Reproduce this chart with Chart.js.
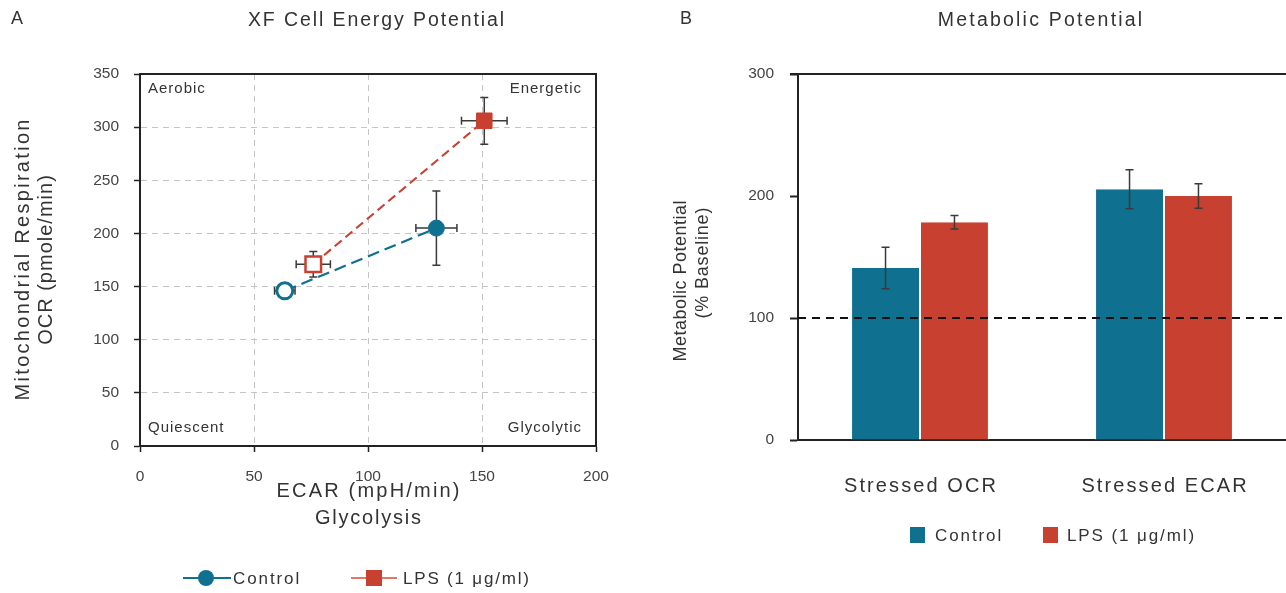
<!DOCTYPE html>
<html>
<head>
<meta charset="utf-8">
<title>XF Cell Energy Potential / Metabolic Potential</title>
<script src="https://cdn.jsdelivr.net/npm/chart.js@4"></script>
<style>
  html, body { margin: 0; padding: 0; background: #ffffff; }
  .panel { position: absolute; top: 0; height: 593px; }
  #panelA { left: 0; width: 640px; }
  #panelB { left: 640px; width: 646px; }
</style>
</head>
<body>
<div class="panel" id="panelA"><canvas id="energyChart" width="640" height="593"></canvas></div>
<div class="panel" id="panelB"><canvas id="potentialChart" width="646" height="593"></canvas></div>
<script>
(() => {
    'use strict';

    // Panel A: XF cell energy potential (baseline -> stressed)
    const ecarTicks = [0, 50, 100, 150, 200];
    const ocrTicks = [0, 50, 100, 150, 200, 250, 300, 350];
    const controlEcar = [63.5, 130];
    const controlOcr = [146, 205];
    const controlEcarErr = [4.5, 9];
    const controlOcrErr = [4, 35];
    const lpsEcar = [76, 151];
    const lpsOcr = [171, 306];
    const lpsEcarErr = [7.5, 10];
    const lpsOcrErr = [12, 22];
    const quadrantLabels = ['Aerobic', 'Energetic', 'Quiescent', 'Glycolytic'];

    // Panel B: metabolic potential (% baseline)
    const metricLabels = ['Stressed OCR', 'Stressed ECAR'];
    const potentialTicks = [0, 100, 200, 300];
    const controlPotential = [141, 205.5];
    const controlPotentialErr = [17, 16];
    const lpsPotential = [178.5, 200];
    const lpsPotentialErr = [5.5, 10];
    const baselinePercent = 100;

    const seriesNames = ['Control', 'LPS (1 \u03bcg/ml)'];

    const BLUE = '#10708f';
    const RED = '#c8402f';
    const INK = '#333333';
    const AXIS = '#222222';
    const FONT = '"Liberation Sans", Arial, sans-serif';

    Chart.defaults.font.family = FONT;
    Chart.defaults.color = INK;

    // the figure's lettering is widely tracked, so text is drawn by hand with letterSpacing
    const text = (ctx, str, x, y, size, spacing, align = 'center', rotate = false) => {
        ctx.save();
        ctx.font = `${size}px ${FONT}`;
        ctx.letterSpacing = `${spacing}px`;
        ctx.fillStyle = INK;
        ctx.textBaseline = 'middle';
        ctx.textAlign = align;
        ctx.translate(x, y);
        if (rotate) {
            ctx.rotate(-Math.PI / 2);
        }
        const shift = align === 'center' ? spacing / 2 : 0;
        ctx.fillText(str, shift, 0);
        ctx.restore();
    };

    const drawErrorBar = (ctx, x1, y1, x2, y2, cap) => {
        ctx.beginPath();
        ctx.moveTo(x1, y1);
        ctx.lineTo(x2, y2);
        if (x1 === x2) {
            ctx.moveTo(x1 - cap, y1);
            ctx.lineTo(x1 + cap, y1);
            ctx.moveTo(x2 - cap, y2);
            ctx.lineTo(x2 + cap, y2);
        } else {
            ctx.moveTo(x1, y1 - cap);
            ctx.lineTo(x1, y1 + cap);
            ctx.moveTo(x2, y2 - cap);
            ctx.lineTo(x2, y2 + cap);
        }
        ctx.stroke();
    };

    const energyDecor = {
        id: 'energyDecor',
        beforeDatasetsDraw(chart) {
            const { ctx, chartArea: area, scales: { x, y } } = chart;
            ctx.save();

            ctx.strokeStyle = AXIS;
            ctx.lineWidth = 2;
            ctx.strokeRect(area.left, area.top, area.right - area.left, area.bottom - area.top);

            text(ctx, quadrantLabels[0], area.left + 8, area.top + 15, 15, 1, 'left');
            text(ctx, quadrantLabels[2], area.left + 8, area.bottom - 18, 15, 1, 'left');
            text(ctx, quadrantLabels[1], area.right - 14, area.top + 15, 15, 1, 'right');
            text(ctx, quadrantLabels[3], area.right - 14, area.bottom - 18, 15, 1, 'right');

            ctx.strokeStyle = '#3a3a3a';
            ctx.lineWidth = 1.5;
            const groups = [
                [controlEcar, controlOcr, controlEcarErr, controlOcrErr],
                [lpsEcar, lpsOcr, lpsEcarErr, lpsOcrErr],
            ];
            groups.forEach(([ex, oy, exErr, oyErr]) => {
                ex.forEach((value, i) => {
                    const px = x.getPixelForValue(value);
                    const py = y.getPixelForValue(oy[i]);
                    drawErrorBar(ctx, px, y.getPixelForValue(oy[i] + oyErr[i]), px, y.getPixelForValue(oy[i] - oyErr[i]), 4);
                    drawErrorBar(ctx, x.getPixelForValue(value - exErr[i]), py, x.getPixelForValue(value + exErr[i]), py, 4);
                });
            });
            ctx.restore();
        },
        afterDraw(chart) {
            const { ctx, chartArea: area } = chart;
            const midX = (area.left + area.right) / 2;
            const midY = (area.top + area.bottom) / 2;

            text(ctx, 'A', 11, 19, 18, 0, 'left');
            text(ctx, 'XF Cell Energy Potential', 376, 21, 19.5, 1.9);

            text(ctx, 'ECAR (mpH/min)', midX, 491, 20, 2.2);
            text(ctx, 'Glycolysis', midX, 518, 20, 1.8);
            text(ctx, 'Mitochondrial Respiration', 23, midY, 20, 2.3, 'center', true);
            text(ctx, 'OCR (pmole/min)', 46, midY, 20, 1, 'center', true);

            const legendY = 578;
            ctx.save();
            ctx.lineWidth = 2;
            ctx.strokeStyle = BLUE;
            ctx.beginPath();
            ctx.moveTo(183, legendY);
            ctx.lineTo(231, legendY);
            ctx.stroke();
            ctx.fillStyle = BLUE;
            ctx.beginPath();
            ctx.arc(206, legendY, 8, 0, Math.PI * 2);
            ctx.fill();

            ctx.strokeStyle = '#e0786a';
            ctx.beginPath();
            ctx.moveTo(351, legendY);
            ctx.lineTo(397, legendY);
            ctx.stroke();
            ctx.fillStyle = RED;
            ctx.fillRect(366, legendY - 8, 16, 16);
            ctx.restore();

            text(ctx, seriesNames[0], 233, legendY + 1, 17, 1.9, 'left');
            text(ctx, seriesNames[1], 403, legendY + 1, 17, 1.8, 'left');
        },
    };

    new Chart(document.getElementById('energyChart'), {
        type: 'scatter',
        data: {
            datasets: [
                {
                    label: seriesNames[1],
                    data: lpsEcar.map((value, i) => ({ x: value, y: lpsOcr[i] })),
                    showLine: true,
                    borderColor: RED,
                    borderWidth: 2.2,
                    borderDash: [9, 5],
                    pointStyle: 'rect',
                    pointRadius: 11,
                    pointBackgroundColor: ['#ffffff', RED],
                    pointBorderColor: RED,
                    pointBorderWidth: [2.5, 1],
                },
                {
                    label: seriesNames[0],
                    data: controlEcar.map((value, i) => ({ x: value, y: controlOcr[i] })),
                    showLine: true,
                    borderColor: BLUE,
                    borderWidth: 2.2,
                    borderDash: [12, 6],
                    pointStyle: 'circle',
                    pointRadius: 8,
                    pointBackgroundColor: ['#ffffff', BLUE],
                    pointBorderColor: BLUE,
                    pointBorderWidth: [3, 1],
                },
            ],
        },
        plugins: [energyDecor],
        options: {
            responsive: false,
            animation: false,
            layout: {
                padding: { left: 0, top: 74, right: 44, bottom: 0 },
            },
            scales: {
                x: {
                    type: 'linear',
                    min: ecarTicks[0],
                    max: ecarTicks[ecarTicks.length - 1],
                    afterBuildTicks: (scale) => {
                        scale.ticks = ecarTicks.map((value) => ({ value }));
                    },
                    afterFit: (scale) => {
                        scale.height = 147;
                    },
                    ticks: {
                        padding: 15,
                        color: '#444444',
                        font: { size: 15.5 },
                    },
                    grid: {
                        color: '#c4c4c4',
                        lineWidth: 1,
                        tickColor: AXIS,
                        tickLength: 6,
                        tickWidth: 1.5,
                    },
                    border: { display: true, color: AXIS, width: 2, dash: [6, 5] },
                },
                y: {
                    type: 'linear',
                    min: ocrTicks[0],
                    max: ocrTicks[ocrTicks.length - 1],
                    afterBuildTicks: (scale) => {
                        scale.ticks = ocrTicks.map((value) => ({ value }));
                    },
                    afterFit: (scale) => {
                        scale.width = 140;
                    },
                    ticks: {
                        padding: 15,
                        color: '#444444',
                        font: { size: 15.5 },
                    },
                    grid: {
                        color: '#c4c4c4',
                        lineWidth: 1,
                        tickColor: AXIS,
                        tickLength: 6,
                        tickWidth: 1.5,
                    },
                    border: { display: true, color: AXIS, width: 2, dash: [6, 5] },
                },
            },
            plugins: {
                legend: { display: false },
                tooltip: { enabled: false },
            },
        },
    });

    const potentialDecor = {
        id: 'potentialDecor',
        beforeDatasetsDraw(chart) {
            const { ctx, chartArea: area } = chart;
            ctx.save();
            ctx.strokeStyle = AXIS;
            ctx.lineWidth = 2;
            ctx.beginPath();
            ctx.moveTo(area.left - 8, area.top);
            ctx.lineTo(area.right, area.top);
            ctx.stroke();
            ctx.restore();
        },
        afterDatasetsDraw(chart) {
            const { ctx, chartArea: area, scales: { y } } = chart;
            ctx.save();
            const baseY = y.getPixelForValue(baselinePercent);
            ctx.strokeStyle = '#111111';
            ctx.lineWidth = 2;
            ctx.setLineDash([8, 6]);
            ctx.beginPath();
            ctx.moveTo(area.left, baseY);
            ctx.lineTo(area.right, baseY);
            ctx.stroke();
            ctx.setLineDash([]);

            ctx.strokeStyle = '#3a3a3a';
            ctx.lineWidth = 1.5;
            const groups = [
                [controlPotential, controlPotentialErr],
                [lpsPotential, lpsPotentialErr],
            ];
            groups.forEach(([values, errs], datasetIndex) => {
                chart.getDatasetMeta(datasetIndex).data.forEach((bar, i) => {
                    drawErrorBar(ctx, bar.x, y.getPixelForValue(values[i] + errs[i]), bar.x, y.getPixelForValue(values[i] - errs[i]), 4);
                });
            });
            ctx.restore();
        },
        afterDraw(chart) {
            const { ctx, scales: { x } } = chart;

            text(ctx, 'B', 40, 19, 18, 0, 'left');
            text(ctx, 'Metabolic Potential', 400, 21, 19.5, 2.2);

            metricLabels.forEach((label, i) => {
                text(ctx, label, x.getPixelForTick(i), 486, 20, 2.1);
            });

            text(ctx, 'Metabolic Potential', 41, 281, 18, 0.5, 'center', true);
            text(ctx, '(% Baseline)', 63, 263, 18, 0.8, 'center', true);

            const legendY = 535;
            ctx.save();
            ctx.fillStyle = BLUE;
            ctx.fillRect(270, legendY - 8, 15, 16);
            ctx.fillStyle = RED;
            ctx.fillRect(403, legendY - 8, 15, 16);
            ctx.restore();
            text(ctx, seriesNames[0], 295, legendY + 1, 17, 1.9, 'left');
            text(ctx, seriesNames[1], 427, legendY + 1, 17, 1.9, 'left');
        },
    };

    new Chart(document.getElementById('potentialChart'), {
        type: 'bar',
        data: {
            labels: metricLabels,
            datasets: [
                {
                    label: seriesNames[0],
                    data: controlPotential,
                    backgroundColor: BLUE,
                    borderColor: '#ffffff',
                    borderWidth: { left: 1, right: 1, top: 0, bottom: 0 },
                    categoryPercentage: 0.565,
                    barPercentage: 1,
                },
                {
                    label: seriesNames[1],
                    data: lpsPotential,
                    backgroundColor: RED,
                    borderColor: '#ffffff',
                    borderWidth: { left: 1, right: 1, top: 0, bottom: 0 },
                    categoryPercentage: 0.565,
                    barPercentage: 1,
                },
            ],
        },
        plugins: [potentialDecor],
        options: {
            responsive: false,
            animation: false,
            layout: {
                padding: { left: 0, top: 74, right: 0, bottom: 0 },
            },
            scales: {
                x: {
                    afterFit: (scale) => {
                        scale.height = 153;
                    },
                    ticks: { display: false },
                    grid: { display: false, drawTicks: false },
                    border: { display: true, color: AXIS, width: 2 },
                },
                y: {
                    min: potentialTicks[0],
                    max: potentialTicks[potentialTicks.length - 1],
                    afterBuildTicks: (scale) => {
                        scale.ticks = potentialTicks.map((value) => ({ value }));
                    },
                    afterFit: (scale) => {
                        scale.width = 158;
                    },
                    ticks: {
                        padding: 16,
                        color: '#444444',
                        font: { size: 15.5 },
                    },
                    grid: {
                        drawOnChartArea: false,
                        tickColor: AXIS,
                        tickLength: 8,
                        tickWidth: 2,
                    },
                    border: { display: true, color: AXIS, width: 2 },
                },
            },
            plugins: {
                legend: { display: false },
                tooltip: { enabled: false },
            },
        },
    });
})();
</script>
</body>
</html>
